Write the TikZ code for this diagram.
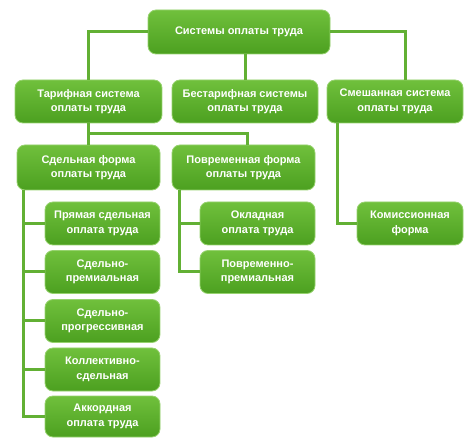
\documentclass[tikz,border=0pt]{standalone}
\usepackage{fontspec}
\setmainfont{Liberation Sans}
\usetikzlibrary{calc}
\definecolor{gtop}{RGB}{112,192,60}
\definecolor{gbot}{RGB}{76,160,32}
\definecolor{gline}{RGB}{98,176,52}
\definecolor{gedge}{RGB}{150,210,110}
\tikzset{
  box/.style={rounded corners=8pt, top color=gtop, bottom color=gbot, draw=gedge, line width=0.8pt,
    text=white, font=\bfseries\fontsize{11}{14.5}\selectfont, align=center, inner sep=1pt,
    minimum height=43pt},
  link/.style={draw=gline, line width=3pt}
}
\begin{document}
\begin{tikzpicture}[x=1pt,y=-1pt]
\useasboundingbox (0,0) rectangle (466,438);
\node[box, minimum width=182pt, minimum height=44pt] (top) at (239,32) {Системы оплаты труда};
\node[box, minimum width=147pt] (tar) at (88.5,101.5) {Тарифная система\\оплаты труда};
\node[box, minimum width=146pt] (bes) at (245,101.5) {Бестарифная системы\\оплаты труда};
\node[box, minimum width=136pt] (sme) at (395,101.5) {Смешанная система\\оплаты труда};
\node[box, minimum width=143pt, minimum height=45pt] (sde) at (88.5,167.5) {Сдельная форма\\оплаты труда};
\node[box, minimum width=143pt, minimum height=45pt] (pov) at (243.5,167.5) {Повременная форма\\оплаты труда};
\node[box, minimum width=115pt] (pr) at (102.5,223.5) {Прямая сдельная\\оплата труда};
\node[box, minimum width=115pt] (sp) at (102.5,272) {Сдельно-\\премиальная};
\node[box, minimum width=115pt] (sg) at (102.5,321) {Сдельно-\\прогрессивная};
\node[box, minimum width=115pt] (ko) at (102.5,369.5) {Коллективно-\\сдельная};
\node[box, minimum width=115pt, minimum height=41pt] (ak) at (102.5,416.5) {Аккордная\\оплата труда};
\node[box, minimum width=115pt] (ok) at (257.5,223.5) {Окладная\\оплата труда};
\node[box, minimum width=115pt] (pp) at (257.5,272) {Повременно-\\премиальная};
\node[box, minimum width=106pt] (km) at (410,223.5) {Комиссионная\\форма};
% connectors
\begin{scope}[link]
\draw (top.west) -| (tar.north);
\draw (top.south -| bes.north) -- (bes.north);
\draw (top.east) -| ([xshift=10pt]sme.north);
\draw (tar.south) -- (sde.north);
\draw ($(tar.south)!0.5!(sde.north)$) -| ([xshift=3.5pt]pov.north);
\draw ([xshift=11pt]sme.south west) |- (km.west);
\draw ([xshift=7pt]sde.south west) |- (ak.west);
\draw ([xshift=7pt]sde.south west |- pr.west) -- (pr.west);
\draw ([xshift=7pt]sde.south west |- sp.west) -- (sp.west);
\draw ([xshift=7pt]sde.south west |- sg.west) -- (sg.west);
\draw ([xshift=7pt]sde.south west |- ko.west) -- (ko.west);
\draw ([xshift=8pt]pov.south west) |- (pp.west);
\draw ([xshift=8pt]pov.south west |- ok.west) -- (ok.west);
\end{scope}
\end{tikzpicture}
\end{document}
